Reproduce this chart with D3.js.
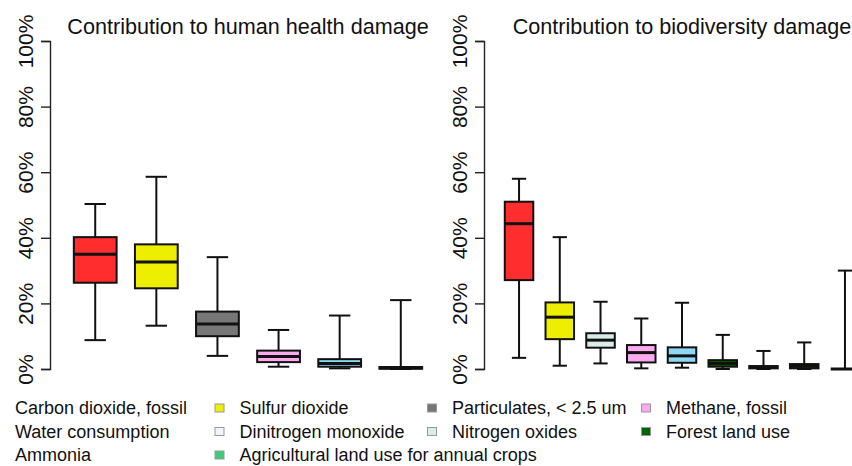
<!DOCTYPE html>
<html>
<head>
<meta charset="utf-8">
<script src="https://cdn.jsdelivr.net/npm/d3@7"></script>
<style>
  body { margin: 0; background: #fff; }
  svg text { font-family: "Liberation Sans", Arial, sans-serif; fill: #111; }
</style>
</head>
<body>
<div id="chart"></div>
<script>
// substances shown in each panel, left to right
var healthNames = ["Carbon dioxide, fossil", "Sulfur dioxide", "Particulates, < 2.5 um",
                   "Methane, fossil", "Water consumption", "Dinitrogen monoxide"];
var healthLow  = [8.8, 13.2, 4.0, 0.7, 0.2, 0.0];
var healthQ1   = [26.3, 24.6, 10.0, 2.1, 0.7, 0.1];
var healthMed  = [35.0, 32.6, 13.7, 3.8, 1.7, 0.3];
var healthQ3   = [40.2, 38.0, 17.5, 5.6, 3.0, 0.6];
var healthHigh = [50.3, 58.6, 34.1, 11.9, 16.3, 21.0];

var bioNames = ["Carbon dioxide, fossil", "Sulfur dioxide", "Nitrogen oxides", "Methane, fossil",
                "Water consumption", "Forest land use", "Dinitrogen monoxide", "Ammonia",
                "Agricultural land use for annual crops"];
var bioLow  = [3.4, 1.0, 1.7, 0.2, 0.4, 0.0, 0.0, 0.0, 0.0];
var bioQ1   = [27.1, 9.1, 6.5, 2.0, 1.9, 0.7, 0.2, 0.2, 0.0];
var bioMed  = [44.3, 15.8, 8.8, 5.0, 4.0, 1.7, 0.5, 0.8, 0.0];
var bioQ3   = [51.0, 20.3, 10.9, 7.3, 6.6, 2.7, 0.9, 1.5, 0.0];
var bioHigh = [58.0, 40.2, 20.5, 15.4, 20.2, 10.4, 5.5, 8.1, 30.0];

var yTicks = [0, 20, 40, 60, 80, 100];

// legend, filled row by row
var legendRows = [
  ["Carbon dioxide, fossil", "Sulfur dioxide", "Particulates, < 2.5 um", "Methane, fossil"],
  ["Water consumption", "Dinitrogen monoxide", "Nitrogen oxides", "Forest land use"],
  ["Ammonia", "Agricultural land use for annual crops"]
];

var colours = {
  "Carbon dioxide, fossil": "#ff2d2d",
  "Sulfur dioxide": "#eeee00",
  "Particulates, < 2.5 um": "#777777",
  "Methane, fossil": "#fbaaf0",
  "Water consumption": "#8ed8f6",
  "Dinitrogen monoxide": "#eef5fc",
  "Nitrogen oxides": "#d8ecec",
  "Forest land use": "#006400",
  "Ammonia": "#cdcd00",
  "Agricultural land use for annual crops": "#3ccc78"
};

var W = 852, H = 466;
var svg = d3.select("#chart").append("svg")
  .attr("width", W).attr("height", H);

var y = d3.scaleLinear().domain([0, 100]).range([369, 41]);

function panel(title, names, lo, q1, med, q3, hi, left, right) {
  var n = names.length;
  // R style range: half a slot each side, plus 4% padding
  var x = d3.scaleLinear()
    .domain([0.5 - 0.04 * n, n + 0.5 + 0.04 * n])
    .range([left, right]);
  var step = x(2) - x(1);
  var bw = step * 0.7;
  var g = svg.append("g");

  var axis = g.append("g")
    .attr("transform", "translate(" + left + ",0)")
    .call(d3.axisLeft(y).tickValues(yTicks).tickSize(9).tickFormat(function(d){ return d + "%"; }));
  axis.select(".domain").attr("stroke", "#222").attr("stroke-width", 1.4);
  axis.selectAll(".tick line").attr("stroke", "#222").attr("stroke-width", 1.4);
  axis.selectAll(".tick text")
    .attr("font-size", 21)
    .attr("fill", "#111")
    .attr("text-anchor", "middle")
    .attr("dy", 0)
    .attr("x", 0)
    .attr("transform", "translate(-17,0) rotate(-90)");

  g.append("text")
    .attr("x", (left + right) / 2)
    .attr("y", 34)
    .attr("text-anchor", "middle")
    .attr("font-size", 21.6)
    .text(title);

  var idx = d3.range(n);
  var box = g.selectAll(".box").data(idx).enter().append("g");

  box.append("line")
    .attr("x1", function(i){ return x(i + 1); })
    .attr("x2", function(i){ return x(i + 1); })
    .attr("y1", function(i){ return y(hi[i]); })
    .attr("y2", function(i){ return y(lo[i]); })
    .attr("stroke", "#111").attr("stroke-width", 2);
  [hi, lo].forEach(function(arr){
    box.append("line")
      .attr("x1", function(i){ return x(i + 1) - bw / 4; })
      .attr("x2", function(i){ return x(i + 1) + bw / 4; })
      .attr("y1", function(i){ return y(arr[i]); })
      .attr("y2", function(i){ return y(arr[i]); })
      .attr("stroke", "#111").attr("stroke-width", 2);
  });
  box.append("rect")
    .attr("x", function(i){ return x(i + 1) - bw / 2; })
    .attr("width", bw)
    .attr("y", function(i){ return y(q3[i]); })
    .attr("height", function(i){ return y(q1[i]) - y(q3[i]); })
    .attr("fill", function(i){ return colours[names[i]]; })
    .attr("stroke", "#111").attr("stroke-width", 2);
  box.append("line")
    .attr("x1", function(i){ return x(i + 1) - bw / 2; })
    .attr("x2", function(i){ return x(i + 1) + bw / 2; })
    .attr("y1", function(i){ return y(med[i]); })
    .attr("y2", function(i){ return y(med[i]); })
    .attr("stroke", "#111").attr("stroke-width", 3);
}

panel("Contribution to human health damage", healthNames,
      healthLow, healthQ1, healthMed, healthQ3, healthHigh, 50, 446);
panel("Contribution to biodiversity damage", bioNames,
      bioLow, bioQ1, bioMed, bioQ3, bioHigh, 484, 880);

// legend
var textX = [15, 239.5, 452, 666];
var rowY = [414, 437.5, 461];
var leg = svg.append("g");
legendRows.forEach(function(row, r){
  row.forEach(function(name, c){
    leg.append("rect")
      .attr("x", textX[c] - 24.5)
      .attr("y", rowY[r] - 10)
      .attr("width", 9).attr("height", 8)
      .attr("fill", colours[name])
      .attr("stroke", "#999").attr("stroke-width", 1);
    leg.append("text")
      .attr("x", textX[c])
      .attr("y", rowY[r])
      .attr("font-size", 18)
      .text(name);
  });
});
</script>
</body>
</html>
